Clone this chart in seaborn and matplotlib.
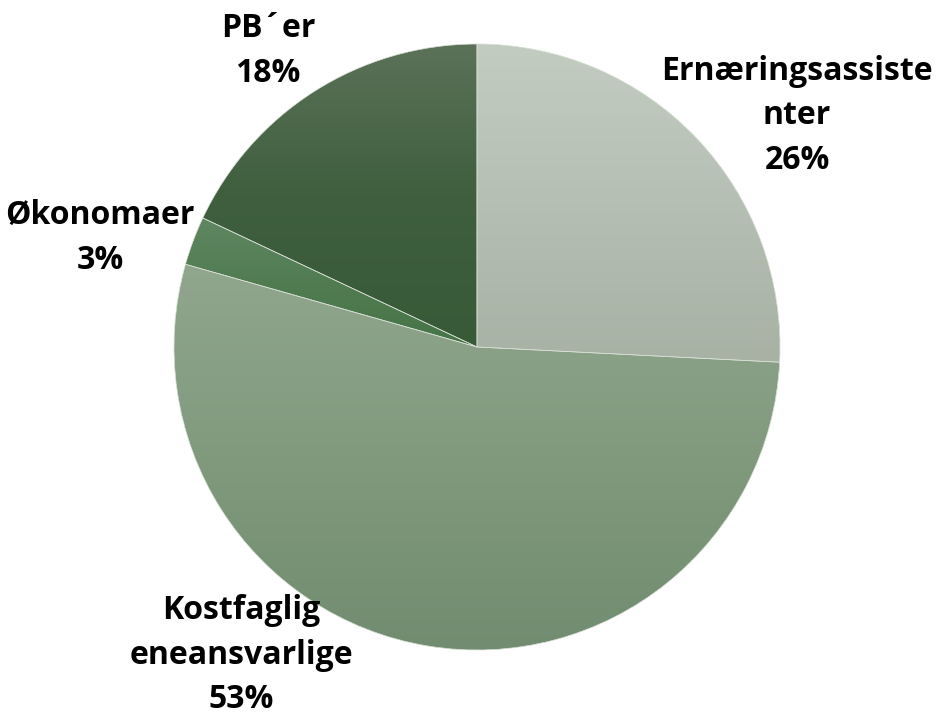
import numpy as np
import seaborn as sns
import matplotlib.pyplot as plt

# data (clockwise from 12 o'clock)
labels = ['Ernæringsassiste\nnter', 'Kostfaglig\neneansvarlige', 'Økonomaer', 'PB´er']
shares = [25.8, 53.6, 2.6, 18.0]
pct_text = ['26%', '53%', '3%', '18%']

# colour stops (top -> bottom) of the vertical gradient in each slice
grad_colors = [
    ['#c2ccc0', '#b5bfb3', '#a7b2a5'],
    ['#90a68d', '#819a7e', '#718c70'],
    ['#5f8762', '#517c52', '#467446'],
    ['#5b7259', '#3f5f3e', '#385a37'],
]

sns.set_style('white')
plt.rcParams['font.family'] = ['Open Sans', 'DejaVu Sans']

W, H = 938, 718
cx, cy, r = 477, 347, 303

fig = plt.figure(figsize=(W / 100, H / 100), dpi=100)
ax = fig.add_axes([0, 0, 1, 1])

wedges, _ = ax.pie(shares, startangle=90, counterclock=False, radius=1,
                   colors=[c[0] for c in grad_colors], wedgeprops=dict(linewidth=0))

grad = np.linspace(0, 1, 256).reshape(-1, 1)
for w, stops in zip(wedges, grad_colors):
    bb = w.get_path().get_extents()
    cmap = sns.blend_palette(stops, n_colors=256, as_cmap=True)
    im = ax.imshow(grad, cmap=cmap, extent=[-1, 1, bb.y0, bb.y1], origin='upper',
                   aspect='auto', zorder=2)
    im.set_clip_path(w)

# thin light seams between slices
for w in wedges:
    w.set_edgecolor('#d8dfd5')
    w.set_linewidth(0.5)
    w.set_facecolor('none')
    w.set_zorder(3)

ax.set_xlim(-cx / r, (W - cx) / r)
ax.set_ylim(-(H - cy) / r, cy / r)
ax.set_aspect('equal')
ax.axis('off')

# label centres in pixel positions of the picture
label_pos = [(797, 116), (241, 655), (100, 238), (268, 51)]
for lab, pct, (px, py) in zip(labels, pct_text, label_pos):
    ax.text((px - cx) / r, (cy - py) / r, lab + '\n' + pct, ha='center', va='center',
            fontsize=23, fontweight='bold', color='black', linespacing=1.47, zorder=5)

fig.savefig('out.png', dpi=100)
